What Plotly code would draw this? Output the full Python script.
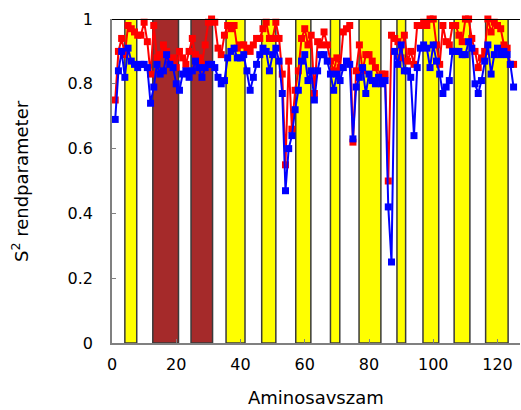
import plotly.graph_objects as go

residues = list(range(1, 126))

s2_blue = [0.69, 0.84, 0.90, 0.82, 0.91, 0.87, 0.86, 0.85, 0.86, 0.86,
           0.85, 0.74, 0.79, 0.86, 0.83, 0.84, 0.89, 0.86, 0.85, 0.80,
           0.78, 0.83, 0.84, 0.82, 0.84, 0.87, 0.85, 0.82, 0.85, 0.86,
           0.86, 0.85, 0.82, 0.80, 0.81, 0.88, 0.90, 0.91, 0.88, 0.88,
           0.89, 0.84, 0.78, 0.82, 0.86, 0.89, 0.91, 0.90, 0.84, 0.89,
           0.91, 0.87, 0.77, 0.47, 0.60, 0.64, 0.72, 0.78, 0.87, 0.89,
           0.81, 0.84, 0.75, 0.84, 0.89, 0.89, 0.87, 0.83, 0.78, 0.83,
           0.81, 0.85, 0.87, 0.86, 0.63, 0.79, 0.82, 0.85, 0.77, 0.83,
           0.81, 0.80, 0.82, 0.80, 0.81, 0.42, 0.25, 0.90, 0.86, 0.92,
           0.84, 0.84, 0.82, 0.64, 0.85, 0.91, 0.92, 0.91, 0.85, 0.92,
           0.87, 0.83, 0.77, 0.79, 0.81, 0.90, 0.90, 0.90, 0.89, 0.89,
           0.93, 0.91, 0.80, 0.77, 0.81, 0.87, 0.92, 0.83, 0.89, 0.91,
           0.89, 0.90, 0.89, 0.86, 0.79]

s2_red = [0.75, 0.90, 0.94, 0.89, 0.98, 0.97, 0.96, 0.95, 0.95, 0.99,
          0.93, 0.83, 0.98, 0.88, 0.89, 0.92, 0.90, 0.87, 0.88, 0.85,
          0.90, 0.88, 0.86, 0.90, 0.94, 0.89, 0.88, 0.86, 0.92, 0.99,
          1.00, 0.99, 0.91, 0.89, 0.95, 0.98, 0.97, 0.98, 0.91, 0.92,
          0.92, 0.91, 0.90, 0.92, 0.94, 0.94, 0.97, 0.99, 0.94, 0.94,
          0.99, 0.94, 0.83, 0.55, 0.87, 0.66, 0.78, 0.84, 0.94, 0.97,
          0.92, 0.95, 0.77, 0.93, 0.92, 0.96, 0.92, 0.87, 0.84, 0.88,
          0.85, 0.96, 0.97, 0.98, 0.62, 0.84, 0.92, 0.84, 0.89, 0.89,
          0.87, 0.85, 0.82, 0.83, 0.83, 0.50, 0.95, 0.94, 0.93, 0.88,
          0.95, 0.87, 0.90, 0.86, 0.98, 0.98, 0.99, 0.98, 1.00, 1.00,
          0.92, 0.86, 0.98, 0.93, 0.92, 0.98, 0.98, 0.95, 0.93, 1.00,
          1.00, 0.94, 0.90, 0.85, 0.88, 0.90, 1.00, 0.96, 0.99, 0.98,
          0.97, 0.92, 0.91, 0.86, 0.86]

region_start = [4.0, 12.7, 24.6, 35.5, 46.6, 57.2, 68.0, 76.9, 88.7, 96.8, 106.5, 116.3]
region_end = [7.7, 20.7, 31.3, 41.4, 51.0, 61.9, 70.9, 83.7, 91.4, 101.7, 111.4, 123.3]
region_kind = ["y", "b", "b", "y", "y", "y", "y", "y", "y", "y", "y", "y"]

fill_colors = {"y": "#ffff00", "b": "#a52a2a"}

fig = go.Figure()

shapes = []
for s, e, k in zip(region_start, region_end, region_kind):
    shapes.append(dict(type="rect", xref="x", yref="y", x0=s, x1=e, y0=0, y1=1,
                       fillcolor=fill_colors[k], line=dict(color="#3a3a3a", width=1.5),
                       layer="below"))
shapes.append(dict(type="line", xref="paper", yref="y", x0=0, x1=1, y0=1, y1=1,
                   line=dict(color="black", width=2), layer="above"))

fig.add_trace(go.Scatter(x=residues, y=s2_red, mode="lines+markers",
                         line=dict(color="#ff0000", width=2),
                         marker=dict(symbol="square", size=7, color="#ff0000"),
                         showlegend=False, cliponaxis=False))
fig.add_trace(go.Scatter(x=residues, y=s2_blue, mode="lines+markers",
                         line=dict(color="#0000ff", width=2),
                         marker=dict(symbol="square", size=7, color="#0000ff"),
                         showlegend=False, cliponaxis=False))

fig.update_layout(
    width=521, height=410,
    margin=dict(l=112, r=1, t=19, b=67),
    paper_bgcolor="white", plot_bgcolor="white",
    font=dict(family="DejaVu Sans", size=16, color="black"),
    shapes=shapes,
    xaxis=dict(range=[0, 127], tickvals=[0, 20, 40, 60, 80, 100, 120],
               showgrid=False, zeroline=False, showline=True, linecolor="#808080",
               linewidth=1.5, ticks="inside", ticklen=4, tickcolor="#808080",
               ticklabelstandoff=6, tickfont=dict(size=16)),
    yaxis=dict(range=[0, 1], tickvals=[0, 0.2, 0.4, 0.6, 0.8, 1],
               ticktext=["0", "0.2", "0.4", "0.6", "0.8", "1"],
               showgrid=False, zeroline=False, showline=True, linecolor="#808080",
               linewidth=1.5, ticks="inside", ticklen=4, tickcolor="#808080",
               ticklabelstandoff=14, tickfont=dict(size=16)),
    annotations=[
        dict(text="Aminosavszam", xref="paper", yref="paper", x=0.5, y=-0.167,
             xanchor="center", yanchor="middle", showarrow=False,
             font=dict(size=18)),
        dict(text="S<sup>2</sup> rendparameter", xref="paper", yref="paper",
             x=-0.2255, y=0.5, xanchor="center", yanchor="middle", textangle=-90,
             showarrow=False, font=dict(size=18)),
    ],
)

fig.write_html("out.html")
